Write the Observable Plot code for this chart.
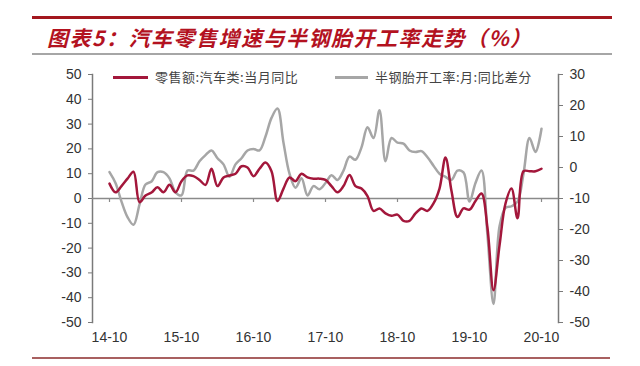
<!DOCTYPE html>
<html><head><meta charset="utf-8">
<script src="https://cdn.jsdelivr.net/npm/d3@7"></script>
<script src="https://cdn.jsdelivr.net/npm/@observablehq/plot@0.6"></script>
<style>
body{margin:0;background:#fff;width:640px;height:366px;position:relative;overflow:hidden;font-family:"Liberation Sans",Arial,sans-serif;}
.bar{position:absolute;}
#title{position:absolute;left:47px;top:23px;font-family:"Noto Sans CJK SC";font-weight:bold;font-style:italic;font-size:21px;letter-spacing:1.5px;color:#b3121f;line-height:28px;white-space:nowrap;}
#chart{position:absolute;left:0;top:60px;}
.leg{position:absolute;top:69px;font-family:"Noto Sans CJK SC";font-size:13px;color:#444;line-height:16px;white-space:nowrap;letter-spacing:0.5px;}
.sw{position:absolute;top:76px;height:3px;}
</style></head>
<body>
<div class="bar" style="left:32px;top:16px;width:580px;height:3px;background:#a3171e"></div>
<div id="title">图表5：汽车零售增速与半钢胎开工率走势（%）</div>
<div class="bar" style="left:32px;top:53px;width:580px;height:2px;background:#a6a6a6"></div>
<div id="chart"></div>
<div class="sw" style="left:113px;width:35px;background:#a3173b"></div>
<div class="leg" style="left:155px" id="leg1"></div>
<div class="sw" style="left:335px;width:33px;background:#a6a6a6"></div>
<div class="leg" style="left:375px" id="leg2"></div>
<div class="bar" style="left:32px;top:357px;width:578px;height:1.5px;background:#a86060"></div>
<script>
const months = ["14-10","14-11","14-12","15-01","15-02","15-03","15-04","15-05","15-06","15-07","15-08","15-09",
"15-10","15-11","15-12","16-01","16-02","16-03","16-04","16-05","16-06","16-07","16-08","16-09",
"16-10","16-11","16-12","17-01","17-02","17-03","17-04","17-05","17-06","17-07","17-08","17-09",
"17-10","17-11","17-12","18-01","18-02","18-03","18-04","18-05","18-06","18-07","18-08","18-09",
"18-10","18-11","18-12","19-01","19-02","19-03","19-04","19-05","19-06","19-07","19-08","19-09",
"19-10","19-11","19-12","20-01","20-02","20-03","20-04","20-05","20-06","20-07","20-08","20-09","20-10"];
// 零售额:汽车类:当月同比 (left axis, %)
const retail = [6,2.5,5,8,10.8,-1.5,1.2,2.4,4.5,2.5,5.5,2.5,
7,9.3,9,7.5,5.5,12,5,8.5,9.3,10,13,12.5,
9,12,14.5,11,-1,4,8.5,7,10,8.5,8,8,
7.5,5,2.5,5,9.5,5,4,1,-5,-4,-6,-7,
-6.5,-9,-9,-6,-4,-5,-2,4,16.5,3,-7.5,-4,
-4.5,-1,2,-12,-37,-19,-2,4,-8,11,11,11,12];
// 半钢胎开工率:月:同比差分 (right axis)
const tire = [-1.5,-5,-11,-16,-18.5,-12,-5.5,-4.5,-1.5,-1.5,-3.5,-8,
-9,-1,-1,2,4,5.5,3,1,-3,1,3,5.5,
6,5.5,10,16,19,8,-2,-6.5,-3.5,-9,-6,-7,
-5,-2.5,-4,-1,3.5,2.5,6.5,13,9.5,18.5,2,9.5,
8,7.7,5.5,5,5.3,3.3,0.6,-2,-3,-4,-1,-1.6,
-11,-5,-1,-22,-44,-19,-13,-12.5,-11,-2,9.5,5,12.5];
const xTicks = ["14-10","15-10","16-10","17-10","18-10","19-10","20-10"];
const leftTicks = [50,40,30,20,10,0,-10,-20,-30,-40,-50];
const rightTicks = [30,20,10,0,-10,-20,-30,-40,-50];
const legendLabels = ["零售额:汽车类:当月同比","半钢胎开工率:月:同比差分"];

document.getElementById("leg1").textContent = legendLabels[0];
document.getElementById("leg2").textContent = legendLabels[1];

// right axis [-50,30] mapped onto left axis [-50,50]
const toLeft = r => (r + 50) * 100 / 80 - 50;
const fromLeft = v => Math.round((v + 50) * 80 / 100 - 50);

const data = months.map((m, i) => ({month: m, retail: retail[i], tire: tire[i]}));
const axisColor = "#7a7a7a";

const chart = Plot.plot({
  width: 640, height: 306,
  marginLeft: 92, marginRight: 82, marginTop: 14, marginBottom: 44,
  x: {type: "point", domain: months, padding: 0.5},
  y: {domain: [-50, 50]},
  style: {fontFamily: "'Liberation Sans', Arial, sans-serif", fontSize: "14px", color: "#333", background: "transparent"},
  marks: [
    Plot.frame({anchor: "left", stroke: axisColor, strokeWidth: 1.5}),
    Plot.frame({anchor: "right", stroke: axisColor, strokeWidth: 1.5}),
    Plot.ruleY([0], {stroke: "#8a8a8a", strokeWidth: 1.5}),
    Plot.ruleX(xTicks, {x: d => d, y1: 0, y2: 0, insetBottom: -4, stroke: "#8a8a8a", strokeWidth: 1.2}),
    Plot.axisY(leftTicks, {anchor: "left", tickSize: 4, tickPadding: 7, stroke: axisColor, tickFormat: d => String(d), label: null}),
    Plot.axisY(rightTicks.map(toLeft), {anchor: "right", tickSize: 4, tickPadding: 7, stroke: axisColor, tickFormat: v => String(fromLeft(v)), label: null}),
    Plot.axisX(xTicks, {anchor: "bottom", tickSize: 0, tickPadding: 10, label: null}),
    Plot.line(data, {x: "month", y: d => toLeft(d.tire), curve: "catmull-rom", stroke: "#a6a6a6", strokeWidth: 2.5}),
    Plot.line(data, {x: "month", y: "retail", curve: "catmull-rom", stroke: "#a3173b", strokeWidth: 2.5})
  ]
});
document.getElementById("chart").appendChild(chart);
</script>
</body></html>
